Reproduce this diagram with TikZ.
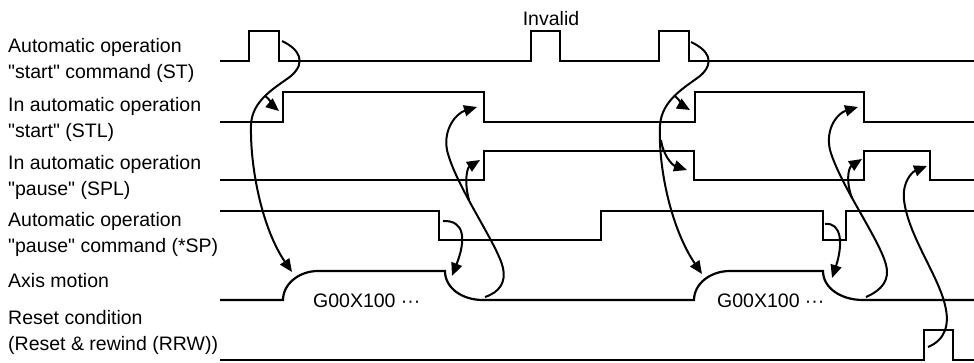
\documentclass[tikz,border=0pt]{standalone}
\usepackage{fontspec}
\setmainfont{Liberation Sans}
\newfontfamily\sigfont{Liberation Sans}
\usetikzlibrary{arrows.meta}

\begin{document}
\begin{tikzpicture}[
        x=1pt,
        y=-1pt,
        wave/.style={
            line width=2.2pt,
            line join=miter
        },
        cause/.style={
            -{Triangle[length=13pt,width=11pt]},
            line width=2pt
        },
        siglabel/.style={
            anchor=base west,
            align=left,
            inner sep=0pt,
            font=\sigfont\fontsize{19.5}{25.5}\selectfont
        },
        codelabel/.style={
            anchor=base west,
            inner sep=0pt,
            font=\sigfont\fontsize{19.5}{23}\selectfont
        }
    ]

    \useasboundingbox (0,0) rectangle (974,362);

    % ---------------------------------------------------------
    % Signal names (placed at the baseline of the last line)
    % ---------------------------------------------------------
    \node[siglabel] (lblST)  at (8,78)  {Automatic operation\\"start" command (ST)};
    \node[siglabel] (lblSTL) at (8,137) {In automatic operation\\"start" (STL)};
    \node[siglabel] (lblSPL) at (8,195) {In automatic operation\\"pause" (SPL)};
    \node[siglabel] (lblSP)  at (8,252) {Automatic operation\\"pause" command (*SP)};
    \node[siglabel] (lblAX)  at (8,287) {Axis motion};
    \node[siglabel] (lblRRW) at (8,350) {Reset condition\\(Reset \& rewind (RRW))};

    \node[codelabel, anchor=base] (invalid) at (551,25) {Invalid};
    \node[codelabel] (codeA) at (313,307) {G00X100 ···};
    \node[codelabel] (codeB) at (717,307) {G00X100 ···};

    % ---------------------------------------------------------
    % Waveforms
    % ---------------------------------------------------------

    % ST
    \draw[wave] (220,61) -- (249,61) -- (249,31) -- (279,31) -- (279,61)
        -- (531,61) -- (531,31) -- (560,31) -- (560,61)
        -- (659,61) -- (659,31) -- (689,31) -- (689,61) -- (974,61);

    % STL
    \draw[wave] (220,122) -- (283,122) -- (283,92) -- (484,92) -- (484,122)
        -- (695,122) -- (695,92) -- (864,92) -- (864,122) -- (974,122);

    % SPL
    \draw[wave] (220,180) -- (484,180) -- (484,151) -- (694,151) -- (694,180)
        -- (864,180) -- (864,151) -- (930,151) -- (930,180) -- (974,180);

    % *SP
    \draw[wave] (220,211) -- (439,211) -- (439,240) -- (601,240) -- (601,211)
        -- (823,211) -- (823,240) -- (846,240) -- (846,211) -- (974,211);

    % Axis motion, rounded start and stop
    \draw[wave] (220,300) -- (283,300)
        .. controls (283,284) and (299,271) .. (318,271) -- (445,271)
        .. controls (445,288) and (462,300) .. (483,300) -- (694,300)
        .. controls (694,284) and (710,271) .. (730,271) -- (823,271)
        .. controls (823,288) and (841,300) .. (863,300) -- (974,300);

    % RRW
    \draw[wave] (220,360) -- (924,360) -- (924,330) -- (953,330) -- (953,360) -- (974,360);

    % ---------------------------------------------------------
    % Cause and effect arrows
    % ---------------------------------------------------------
    \coordinate (stA)   at (282,41);
    \coordinate (brA)   at (265,96);
    \coordinate (stlA)  at (279,111);
    \coordinate (axA)   at (292,272);

    \coordinate (stB)   at (691,42);
    \coordinate (brB)   at (675,96);
    \coordinate (stlB)  at (690,110);
    \coordinate (brBB)  at (661,140);
    \coordinate (splB)  at (687,170);
    \coordinate (axB)   at (702,274);

    \coordinate (spA)   at (443,221);
    \coordinate (stopA) at (452,276);
    \coordinate (spB)   at (825,224);
    \coordinate (stopB) at (832,278);

    \coordinate (endA)  at (485,297);
    \coordinate (brD)   at (469,200);
    \coordinate (offA)  at (477,107);
    \coordinate (onA)   at (480,160);

    \coordinate (endB)  at (866,297);
    \coordinate (brF)   at (852,198);
    \coordinate (offB)  at (858,107);
    \coordinate (onB)   at (862,159);

    \coordinate (rrw)   at (928,347);
    \coordinate (offC)  at (927,166);

    % start -> STL, axis
    \draw[cause] (stA) .. controls (299,49) and (307,62) .. (291,76)
        .. controls (275,88) and (252,100) .. (251,125)
        .. controls (250,170) and (263,230) .. (axA);
    \draw[cause] (brA) .. controls (271,100) and (273,106) .. (stlA);

    % second start -> STL, SPL, axis
    \draw[cause] (stB) .. controls (708,50) and (716,62) .. (700,76)
        .. controls (684,88) and (662,100) .. (660,125)
        .. controls (658,170) and (672,230) .. (axB);
    \draw[cause] (brB) .. controls (680,100) and (683,106) .. (stlB);
    \draw[cause] (brBB) .. controls (663,155) and (672,165) .. (splB);

    % pause -> axis stop
    \draw[cause] (spA) .. controls (465,220) and (466,240) .. (stopA);
    \draw[cause] (spB) .. controls (842,222) and (843,245) .. (stopB);

    % axis stopped -> STL off, SPL on
    \draw[cause] (endA) .. controls (500,292) and (506,282) .. (503,268)
        .. controls (498,245) and (455,185) .. (447,150)
        .. controls (443,128) and (457,113) .. (offA);
    \draw[cause] (brD) .. controls (464,182) and (467,168) .. (onA);

    \draw[cause] (endB) .. controls (882,290) and (890,280) .. (886,265)
        .. controls (880,240) and (840,185) .. (830,150)
        .. controls (825,128) and (838,113) .. (offB);
    \draw[cause] (brF) .. controls (846,183) and (848,168) .. (onB);

    % reset -> SPL off
    \draw[cause] (rrw) .. controls (945,340) and (950,325) .. (945,305)
        .. controls (938,275) and (908,235) .. (904,200)
        .. controls (902,182) and (912,172) .. (offC);

\end{tikzpicture}
\end{document}
